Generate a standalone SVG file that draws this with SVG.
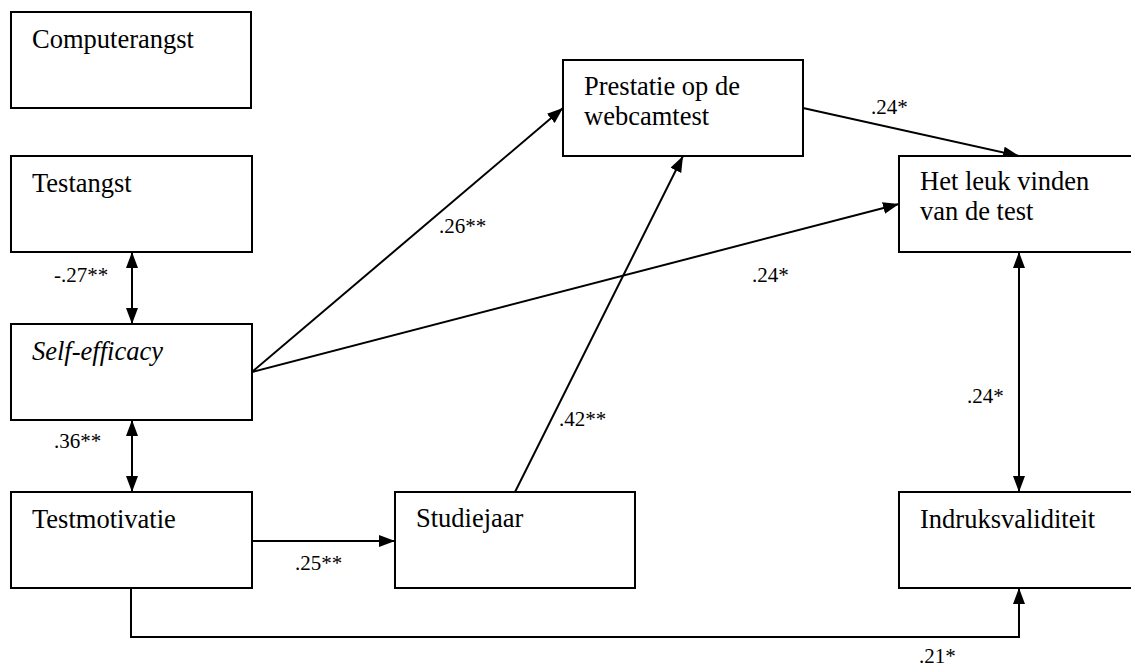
<svg xmlns="http://www.w3.org/2000/svg" width="1131" height="668" viewBox="0 0 1131 668">
<style>
.box{fill:#fff;stroke:#000;stroke-width:2}
.t{font-family:"Liberation Serif","Times New Roman",serif;font-size:26.5px;fill:#000}
.l{font-family:"Liberation Serif","Times New Roman",serif;font-size:21px;fill:#000}
.c{fill:none;stroke:#000;stroke-width:2}
</style>
<defs>
<marker id="ah" markerUnits="userSpaceOnUse" markerWidth="17" markerHeight="13" refX="16" refY="6" orient="auto-start-reverse">
<path d="M0,0 L16,6 L0,12 z" fill="#000"/>
</marker>
</defs>
<rect width="1131" height="668" fill="#fff"/>
<g id="connectors">
<line class="c" x1="132" y1="252" x2="132" y2="324" marker-start="url(#ah)" marker-end="url(#ah)"/>
<line class="c" x1="132" y1="420" x2="132" y2="492" marker-start="url(#ah)" marker-end="url(#ah)"/>
<line class="c" x1="252" y1="372" x2="563" y2="108" marker-end="url(#ah)"/>
<line class="c" x1="252" y1="372" x2="899" y2="204" marker-end="url(#ah)"/>
<line class="c" x1="515" y1="492" x2="683" y2="156" marker-end="url(#ah)"/>
<line class="c" x1="803" y1="108" x2="1019" y2="156" marker-end="url(#ah)"/>
<line class="c" x1="1019" y1="252" x2="1019" y2="492" marker-start="url(#ah)" marker-end="url(#ah)"/>
<line class="c" x1="252" y1="541" x2="395" y2="541" marker-end="url(#ah)"/>
<polyline class="c" points="131,588 131,637 1019,637 1019,588" marker-end="url(#ah)"/>
<text class="l" x="54" y="282">-.27**</text>
<text class="l" x="54" y="448">.36**</text>
<text class="l" x="295" y="570">.25**</text>
<text class="l" x="559" y="426">.42**</text>
<text class="l" x="439" y="233">.26**</text>
<text class="l" x="871" y="114">.24*</text>
<text class="l" x="752" y="282">.24*</text>
<text class="l" x="967" y="403">.24*</text>
<text class="l" x="919" y="663">.21*</text>
</g>
<g id="computerangst"><rect class="box" x="11" y="12" width="240" height="96"/><text class="t" x="32" y="48">Computerangst</text></g>
<g id="testangst"><rect class="box" x="11" y="156" width="241" height="96"/><text class="t" x="32" y="192">Testangst</text></g>
<g id="selfefficacy"><rect class="box" x="11" y="324" width="241" height="96"/><text class="t" x="32" y="360" font-style="italic">Self-efficacy</text></g>
<g id="testmotivatie"><rect class="box" x="11" y="492" width="241" height="96"/><text class="t" x="32" y="528">Testmotivatie</text></g>
<g id="studiejaar"><rect class="box" x="395" y="492" width="240" height="96"/><text class="t" x="416" y="527">Studiejaar</text></g>
<g id="prestatie"><rect class="box" x="563" y="60" width="240" height="96"/><text class="t" x="584" y="95">Prestatie op de</text><text class="t" x="584" y="125">webcamtest</text></g>
<g id="hetleuk"><rect class="box" x="899" y="156" width="240" height="96"/><text class="t" x="920" y="190">Het leuk vinden</text><text class="t" x="920" y="220">van de test</text></g>
<g id="indruksvaliditeit"><rect class="box" x="899" y="492" width="240" height="96"/><text class="t" x="920" y="528">Indruksvaliditeit</text></g>
</svg>
